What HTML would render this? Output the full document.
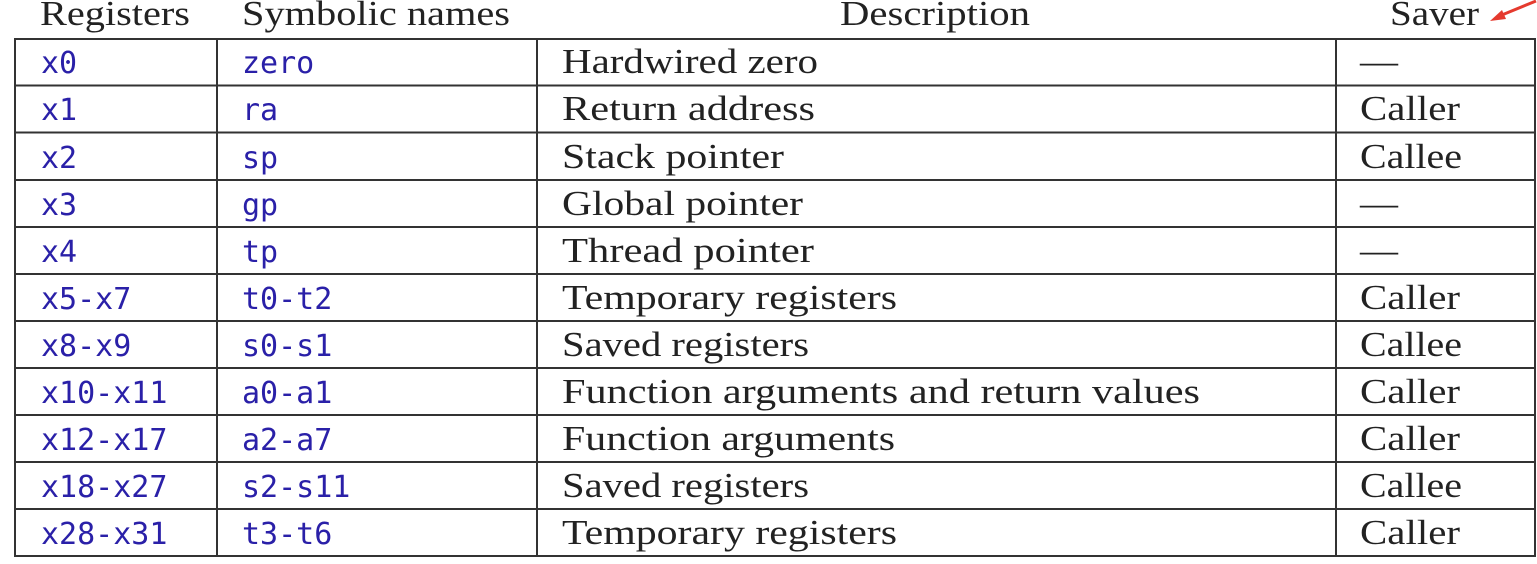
<!DOCTYPE html>
<html><head><meta charset="utf-8"><style>
html,body{margin:0;padding:0;background:#fff;}
svg{display:block}
.h{font-family:"Liberation Serif",serif;font-size:35px;fill:#222}
.m{font-family:"DejaVu Sans Mono","Liberation Mono",monospace;font-size:30px;fill:#2a20a8}
.s{font-family:"Liberation Serif",serif;font-size:35px;fill:#222}
</style></head><body>
<svg width="1537" height="564" viewBox="0 0 1537 564">
<text class="h" x="40" y="25" textLength="150" lengthAdjust="spacingAndGlyphs">Registers</text>
<text class="h" x="242" y="25" textLength="268" lengthAdjust="spacingAndGlyphs">Symbolic names</text>
<text class="h" x="840" y="25" textLength="190" lengthAdjust="spacingAndGlyphs">Description</text>
<text class="h" x="1390" y="25" textLength="89" lengthAdjust="spacingAndGlyphs">Saver</text>
<line x1="1536" y1="1" x2="1497" y2="17" stroke="#e53a2e" stroke-width="3"/>
<polygon points="1490,21 1502,10 1506,19" fill="#e53a2e"/>
<g stroke="#333" stroke-width="2" fill="none">
<rect x="15" y="39" width="1520" height="517"/>
<line x1="217" y1="39" x2="217" y2="556"/>
<line x1="537" y1="39" x2="537" y2="556"/>
<line x1="1336" y1="39" x2="1336" y2="556"/>
<line x1="15" y1="85.5" x2="1535" y2="85.5"/>
<line x1="15" y1="132.5" x2="1535" y2="132.5"/>
<line x1="15" y1="180" x2="1535" y2="180"/>
<line x1="15" y1="227" x2="1535" y2="227"/>
<line x1="15" y1="274" x2="1535" y2="274"/>
<line x1="15" y1="321" x2="1535" y2="321"/>
<line x1="15" y1="368" x2="1535" y2="368"/>
<line x1="15" y1="415" x2="1535" y2="415"/>
<line x1="15" y1="462" x2="1535" y2="462"/>
<line x1="15" y1="509" x2="1535" y2="509"/>
</g>
<g transform="translate(0,2)">
<text class="m" x="41" y="71">x0</text><text class="m" x="242" y="71">zero</text><text class="s" x="562" y="71" textLength="256" lengthAdjust="spacingAndGlyphs">Hardwired zero</text><text class="s" x="1360" y="71" textLength="38" lengthAdjust="spacingAndGlyphs">—</text>
<text class="m" x="41" y="118">x1</text><text class="m" x="242" y="118">ra</text><text class="s" x="562" y="118" textLength="253" lengthAdjust="spacingAndGlyphs">Return address</text><text class="s" x="1360" y="118" textLength="100" lengthAdjust="spacingAndGlyphs">Caller</text>
<text class="m" x="41" y="166">x2</text><text class="m" x="242" y="166">sp</text><text class="s" x="562" y="166" textLength="222" lengthAdjust="spacingAndGlyphs">Stack pointer</text><text class="s" x="1360" y="166" textLength="102" lengthAdjust="spacingAndGlyphs">Callee</text>
<text class="m" x="41" y="213">x3</text><text class="m" x="242" y="213">gp</text><text class="s" x="562" y="213" textLength="241" lengthAdjust="spacingAndGlyphs">Global pointer</text><text class="s" x="1360" y="213" textLength="38" lengthAdjust="spacingAndGlyphs">—</text>
<text class="m" x="41" y="260">x4</text><text class="m" x="242" y="260">tp</text><text class="s" x="562" y="260" textLength="252" lengthAdjust="spacingAndGlyphs">Thread pointer</text><text class="s" x="1360" y="260" textLength="38" lengthAdjust="spacingAndGlyphs">—</text>
<text class="m" x="41" y="307">x5-x7</text><text class="m" x="242" y="307">t0-t2</text><text class="s" x="562" y="307" textLength="335" lengthAdjust="spacingAndGlyphs">Temporary registers</text><text class="s" x="1360" y="307" textLength="100" lengthAdjust="spacingAndGlyphs">Caller</text>
<text class="m" x="41" y="354">x8-x9</text><text class="m" x="242" y="354">s0-s1</text><text class="s" x="562" y="354" textLength="247" lengthAdjust="spacingAndGlyphs">Saved registers</text><text class="s" x="1360" y="354" textLength="102" lengthAdjust="spacingAndGlyphs">Callee</text>
<text class="m" x="41" y="401">x10-x11</text><text class="m" x="242" y="401">a0-a1</text><text class="s" x="562" y="401" textLength="638" lengthAdjust="spacingAndGlyphs">Function arguments and return values</text><text class="s" x="1360" y="401" textLength="100" lengthAdjust="spacingAndGlyphs">Caller</text>
<text class="m" x="41" y="448">x12-x17</text><text class="m" x="242" y="448">a2-a7</text><text class="s" x="562" y="448" textLength="333" lengthAdjust="spacingAndGlyphs">Function arguments</text><text class="s" x="1360" y="448" textLength="100" lengthAdjust="spacingAndGlyphs">Caller</text>
<text class="m" x="41" y="495">x18-x27</text><text class="m" x="242" y="495">s2-s11</text><text class="s" x="562" y="495" textLength="247" lengthAdjust="spacingAndGlyphs">Saved registers</text><text class="s" x="1360" y="495" textLength="102" lengthAdjust="spacingAndGlyphs">Callee</text>
<text class="m" x="41" y="542">x28-x31</text><text class="m" x="242" y="542">t3-t6</text><text class="s" x="562" y="542" textLength="335" lengthAdjust="spacingAndGlyphs">Temporary registers</text><text class="s" x="1360" y="542" textLength="100" lengthAdjust="spacingAndGlyphs">Caller</text>
</g>
</svg>
</body></html>
